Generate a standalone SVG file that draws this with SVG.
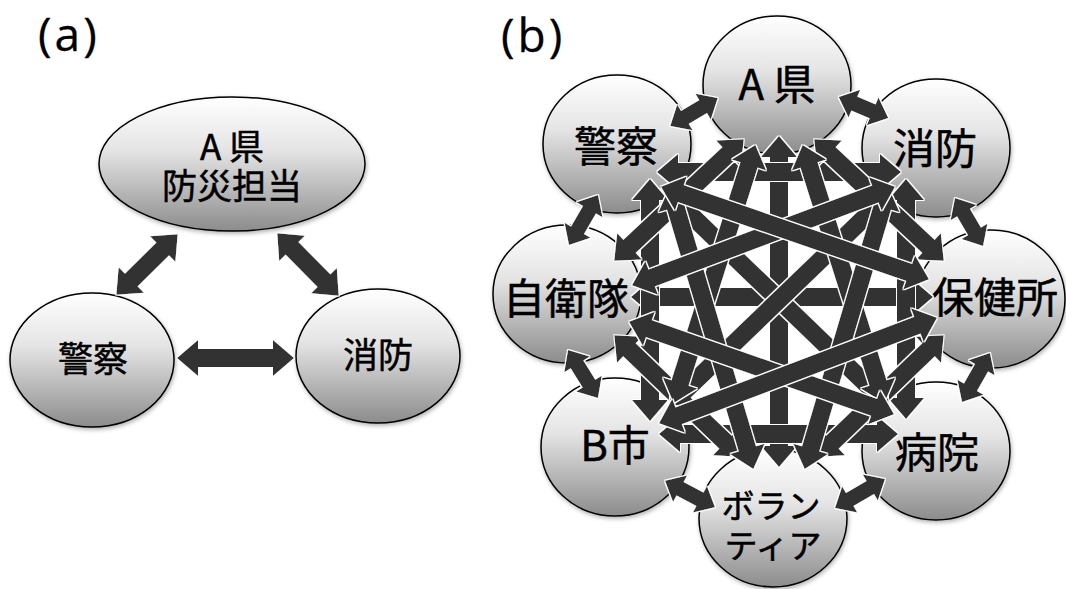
<svg xmlns="http://www.w3.org/2000/svg" width="1066" height="589" viewBox="0 0 1066 589">
  <defs>
    <!-- soft top-lit shading of the round nodes -->
    <linearGradient id="ball" x1="0" y1="0" x2="0" y2="1">
      <stop offset="0" stop-color="#ffffff"/>
      <stop offset="0.4" stop-color="#e4e4e4"/>
      <stop offset="1" stop-color="#8c8c8c"/>
    </linearGradient>
    <filter id="shadow" x="-10%" y="-10%" width="125%" height="130%">
      <feDropShadow dx="1" dy="2" stdDeviation="2" flood-color="#000" flood-opacity="0.3"/>
    </filter>
    <!-- thin white rim around each arrow so crossings stay readable -->
    <filter id="edge" filterUnits="userSpaceOnUse" x="0" y="0" width="1066" height="589">
      <feMorphology in="SourceAlpha" operator="dilate" radius="1" result="fat"/>
      <feFlood flood-color="#ffffff"/>
      <feComposite in2="fat" operator="in" result="rim"/>
      <feMerge><feMergeNode in="rim"/><feMergeNode in="SourceGraphic"/></feMerge>
    </filter>
    <!-- heads: the shaft stops at the marker origin, the tip lies beyond it -->
    <marker id="hd" markerUnits="userSpaceOnUse" orient="auto-start-reverse" viewBox="-9 -19 24 38" markerWidth="24" markerHeight="38" refX="0" refY="0">
      <path d="M-8,-18 L13,0 L-8,18 Z" fill="#333333"/>
    </marker>
    <marker id="hs" markerUnits="userSpaceOnUse" orient="auto-start-reverse" viewBox="-9 -16 20 32" markerWidth="20" markerHeight="32" refX="0" refY="0">
      <path d="M-8,-15 L9,0 L-8,15 Z" fill="#333333"/>
    </marker>
  </defs>
  <style>
    .node ellipse { fill: url(#ball); stroke: #000; stroke-width: 1.5; filter: url(#shadow); }
    text { font-family: "Noto Sans CJK JP", "Noto Sans CJK SC", sans-serif; fill: #000; stroke: #000; stroke-width: 0.5; text-anchor: middle; }
    .la { font-size: 35px; }
    .lb { font-size: 42px; }
    .lv { font-size: 33px; }
    .tag { font-family: "Open Sans", "DejaVu Sans", sans-serif; font-size: 46px; text-anchor: start; letter-spacing: 3px; stroke-width: 0.3; }
    .arrows line { stroke: #333333; filter: url(#edge); }
    .lg { stroke-width: 18; marker-start: url(#hd); marker-end: url(#hd); }
    .sh { stroke-width: 15; marker-start: url(#hs); marker-end: url(#hs); }
  </style>

  <text class="tag" x="38" y="51">(a)</text>
  <text class="tag" x="501" y="52">(b)</text>

  <!-- (a) three parties -->
  <g id="a-pref" class="node">
    <ellipse cx="232" cy="164" rx="133" ry="67"/>
    <text class="la"><tspan x="232" y="160">A 県</tspan><tspan x="232" y="199">防災担当</tspan></text>
  </g>
  <g id="a-police" class="node">
    <ellipse cx="92" cy="360" rx="82" ry="67"/>
    <text class="la" x="93" y="372">警察</text>
  </g>
  <g id="a-fire" class="node">
    <ellipse cx="378" cy="356" rx="82" ry="67"/>
    <text class="la" x="378" y="368">消防</text>
  </g>

  <!-- (b) eight parties -->
  <g id="b-pref" class="node">
    <ellipse cx="777" cy="85" rx="74" ry="69"/>
    <text class="lb" x="777" y="100">A 県</text>
  </g>
  <g id="b-police" class="node">
    <ellipse cx="617" cy="144" rx="74" ry="69"/>
    <text class="lb" x="616" y="162">警察</text>
  </g>
  <g id="b-fire" class="node">
    <ellipse cx="936" cy="148" rx="74" ry="69"/>
    <text class="lb" x="935" y="164">消防</text>
  </g>
  <g id="b-sdf" class="node">
    <ellipse cx="567" cy="294" rx="74" ry="69"/>
    <text class="lb" x="566" y="314">自衛隊</text>
  </g>
  <g id="b-health" class="node">
    <ellipse cx="991" cy="299" rx="74" ry="69"/>
    <text class="lb" x="995" y="313">保健所</text>
  </g>
  <g id="b-city" class="node">
    <ellipse cx="615" cy="447" rx="74" ry="69"/>
    <text class="lb" x="615" y="461">B市</text>
  </g>
  <g id="b-hospital" class="node">
    <ellipse cx="936" cy="451" rx="74" ry="69"/>
    <text class="lb" x="937" y="468">病院</text>
  </g>
  <g id="b-volunteer" class="node">
    <ellipse cx="773" cy="518" rx="74" ry="69"/>
    <text class="lv"><tspan x="771" y="518">ボラン</tspan><tspan x="773" y="558">ティア</tspan></text>
  </g>

  <g id="connectors" class="arrows">
    <!-- (a) -->
    <line class="lg" x1="125.6" y1="285.6" x2="168.4" y2="243.4"/>
    <line class="lg" x1="286.4" y1="242.6" x2="329.6" y2="286.4"/>
    <line class="lg" x1="190" y1="358" x2="281" y2="358"/>

    <!-- (b) neighbours -->
    <line class="sh" x1="678" y1="121.5" x2="710" y2="102.5"/>
    <line class="sh" x1="847" y1="100.5" x2="880" y2="114.5"/>
    <line class="sh" x1="959.5" y1="205.8" x2="978.5" y2="238.2"/>
    <line class="sh" x1="593.5" y1="202.8" x2="573.5" y2="237.2"/>
    <line class="sh" x1="572.8" y1="357.6" x2="593.2" y2="390.4"/>
    <line class="sh" x1="985.5" y1="360.8" x2="966.5" y2="394.2"/>
    <line class="sh" x1="673" y1="485" x2="707" y2="503"/>
    <line class="sh" x1="842.8" y1="503.5" x2="877.2" y2="483.5"/>

    <!-- (b) straight runs -->
    <line class="lg" x1="779" y1="149" x2="779" y2="454"/>
    <line class="lg" x1="644" y1="297" x2="920" y2="297"/>
    <line class="lg" x1="670" y1="172" x2="888" y2="172"/>
    <line class="lg" x1="672" y1="434" x2="885" y2="434"/>
    <line class="lg" x1="650" y1="192" x2="650" y2="408"/>
    <line class="lg" x1="906" y1="192" x2="906" y2="406"/>

    <!-- (b) diamond -->
    <line class="lg" x1="823.7" y1="148.2" x2="934.3" y2="251.8"/>
    <line class="lg" x1="734.3" y1="148.2" x2="623.7" y2="251.8"/>
    <line class="lg" x1="731.3" y1="447.7" x2="623.7" y2="344.3"/>
    <line class="lg" x1="826.7" y1="447.7" x2="934.3" y2="344.3"/>

    <!-- (b) through the centre -->
    <line class="lg" x1="676.6" y1="201.3" x2="879.4" y2="396.7"/>
    <line class="lg" x1="881.4" y1="201.3" x2="678.6" y2="396.7"/>

    <!-- (b) steep -->
    <line class="lg" x1="751.4" y1="157.4" x2="677.6" y2="390.6"/>
    <line class="lg" x1="806.6" y1="157.4" x2="880.4" y2="390.6"/>
    <line class="lg" x1="673.4" y1="199.5" x2="749.6" y2="456.5"/>
    <line class="lg" x1="884.6" y1="199.5" x2="808.4" y2="456.5"/>

    <!-- (b) shallow -->
    <line class="lg" x1="641.3" y1="326" x2="881.7" y2="410"/>
    <line class="lg" x1="671.2" y1="418.7" x2="924.8" y2="322.3"/>
    <line class="lg" x1="882.8" y1="191.2" x2="644.2" y2="280.8"/>
    <line class="lg" x1="673.3" y1="190.9" x2="916.7" y2="275.1"/>
  </g>
</svg>
